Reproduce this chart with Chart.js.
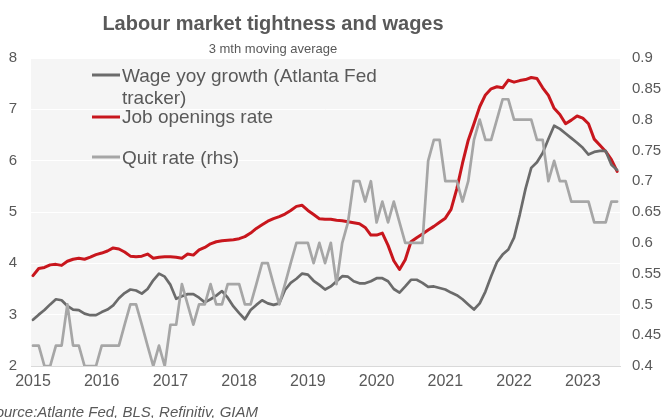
<!DOCTYPE html>
<html>
<head>
<meta charset="utf-8">
<title>Labour market tightness and wages</title>
<script src="https://cdn.jsdelivr.net/npm/chart.js@4/dist/chart.umd.min.js"></script>
<style>
  html, body { margin: 0; padding: 0; background: #ffffff; }
</style>
</head>
<body>
<canvas id="wagesChart" width="662" height="418"></canvas>
<script>
// Monthly data, Jan 2015 .. Jul 2023 (3 month moving averages)
const years = ['2015', '2016', '2017', '2018', '2019', '2020', '2021', '2022', '2023'];

// Atlanta Fed wage growth tracker, % yoy (lhs)
const wageGrowth = [
    2.90, 3.00, 3.09, 3.20, 3.30, 3.28, 3.17, 3.10, 3.09, 3.02, 2.99, 2.99,
    3.05, 3.10, 3.18, 3.32, 3.42, 3.49, 3.47, 3.41, 3.50, 3.67, 3.80, 3.74,
    3.58, 3.31, 3.36, 3.40, 3.40, 3.33, 3.24, 3.30, 3.37, 3.46, 3.33, 3.16,
    3.03, 2.91, 3.09, 3.19, 3.28, 3.22, 3.19, 3.22, 3.48, 3.62, 3.70, 3.80,
    3.78, 3.66, 3.58, 3.49, 3.55, 3.65, 3.75, 3.74, 3.65, 3.61, 3.61, 3.65,
    3.71, 3.71, 3.65, 3.50, 3.43, 3.55, 3.68, 3.68, 3.62, 3.54, 3.55, 3.52,
    3.49, 3.43, 3.38, 3.30, 3.20, 3.10, 3.22, 3.45, 3.75, 4.02, 4.17, 4.27,
    4.50, 4.95, 5.45, 5.86, 5.97, 6.15, 6.42, 6.68, 6.62, 6.53, 6.44, 6.35,
    6.25, 6.12, 6.17, 6.19, 6.19, 5.92, 5.82
];

// Job openings rate, % (lhs)
const jobOpenings = [
    3.76, 3.90, 3.92, 3.97, 3.98, 3.96, 4.04, 4.08, 4.10, 4.08, 4.12, 4.17,
    4.20, 4.24, 4.30, 4.28, 4.22, 4.14, 4.13, 4.14, 4.18, 4.10, 4.12, 4.13,
    4.13, 4.12, 4.10, 4.18, 4.16, 4.26, 4.31, 4.38, 4.42, 4.44, 4.45, 4.46,
    4.48, 4.52, 4.59, 4.68, 4.75, 4.82, 4.87, 4.91, 4.96, 5.03, 5.11, 5.13,
    5.03, 4.95, 4.87, 4.86, 4.86, 4.84, 4.83, 4.81, 4.79, 4.77, 4.70, 4.55,
    4.55, 4.59, 4.35, 4.05, 3.88, 4.07, 4.42, 4.50, 4.57, 4.65, 4.72, 4.80,
    4.88, 5.05, 5.45, 5.95, 6.40, 6.72, 7.05, 7.28, 7.40, 7.44, 7.42, 7.57,
    7.53, 7.56, 7.58, 7.62, 7.60, 7.42, 7.27, 7.02, 6.90, 6.72, 6.79, 6.87,
    6.83, 6.72, 6.42, 6.30, 6.18, 6.02, 5.79
];

// Quit rate (rhs)
const quitRate = [
    0.433, 0.433, 0.400, 0.400, 0.433, 0.433, 0.500, 0.433, 0.433, 0.400, 0.400, 0.400,
    0.433, 0.433, 0.433, 0.433, 0.467, 0.500, 0.500, 0.467, 0.433, 0.400, 0.433, 0.400,
    0.467, 0.467, 0.533, 0.500, 0.467, 0.500, 0.500, 0.533, 0.500, 0.500, 0.533, 0.533,
    0.533, 0.500, 0.500, 0.533, 0.567, 0.567, 0.533, 0.500, 0.533, 0.567, 0.600, 0.600,
    0.600, 0.567, 0.600, 0.567, 0.600, 0.533, 0.600, 0.633, 0.700, 0.700, 0.667, 0.700,
    0.633, 0.667, 0.633, 0.667, 0.633, 0.600, 0.600, 0.600, 0.600, 0.733, 0.767, 0.767,
    0.700, 0.700, 0.700, 0.667, 0.700, 0.767, 0.800, 0.767, 0.767, 0.800, 0.833, 0.833,
    0.800, 0.800, 0.800, 0.800, 0.767, 0.767, 0.700, 0.733, 0.700, 0.700, 0.667, 0.667,
    0.667, 0.667, 0.633, 0.633, 0.633, 0.667, 0.667
];

const seriesNames = [['Wage yoy growth (Atlanta Fed', 'tracker)'], ['Job openings rate'], ['Quit rate (rhs)']];
const seriesColors = ['#6b6b6b', '#c8161d', '#a6a6a6'];

const chartTitle = 'Labour market tightness and wages';
const chartSubtitle = '3 mth moving average';
const sourceNote = 'Source:Atlante Fed, BLS, Refinitiv, GIAM';

const textColor = '#595959';
const fontFamily = '"Liberation Sans", Arial, sans-serif';

// month index -> point
const toPoints = arr => arr.map((v, i) => ({ x: i, y: v }));

// title, grey plot background, hand drawn legend and source line
const decorations = {
    id: 'decorations',
    beforeDraw(chart) {
        const { ctx, chartArea: a } = chart;
        ctx.save();
        ctx.fillStyle = '#f5f5f5';
        ctx.fillRect(a.left, a.top, a.right - a.left, a.bottom - a.top);
        ctx.restore();
    },
    afterDraw(chart) {
        const ctx = chart.ctx;
        ctx.save();
        ctx.fillStyle = textColor;
        ctx.textBaseline = 'alphabetic';

        ctx.textAlign = 'center';
        ctx.font = 'bold 20px ' + fontFamily;
        ctx.fillText(chartTitle, 273, 30);
        ctx.font = '13px ' + fontFamily;
        ctx.fillText(chartSubtitle, 273, 53);

        // legend
        const rows = [{ y: 75, baseline: 82 }, { y: 117, baseline: 123 }, { y: 157, baseline: 164 }];
        ctx.textAlign = 'left';
        ctx.font = '19px ' + fontFamily;
        rows.forEach((r, k) => {
            ctx.strokeStyle = seriesColors[k];
            ctx.lineWidth = 3;
            ctx.beginPath();
            ctx.moveTo(92, r.y);
            ctx.lineTo(120, r.y);
            ctx.stroke();
            seriesNames[k].forEach((line, j) => {
                ctx.fillText(line, 122, r.baseline + j * 21.5);
            });
        });

        ctx.font = 'italic 15px ' + fontFamily;
        ctx.textAlign = 'right';
        ctx.fillText(sourceNote, 258, 417);
        ctx.restore();
    }
};

const ctx = document.getElementById('wagesChart').getContext('2d');
const wagesChart = new Chart(ctx, {
    type: 'line',
    data: {
        datasets: [{
            label: seriesNames[0].join(' '),
            data: toPoints(wageGrowth),
            borderColor: seriesColors[0],
            borderWidth: 2.7,
            yAxisID: 'y',
            order: 1
        }, {
            label: seriesNames[1][0],
            data: toPoints(jobOpenings),
            borderColor: seriesColors[1],
            borderWidth: 3,
            yAxisID: 'y',
            order: 2
        }, {
            label: seriesNames[2][0],
            data: toPoints(quitRate),
            borderColor: seriesColors[2],
            borderWidth: 2.7,
            yAxisID: 'y1',
            order: 0
        }]
    },
    options: {
        responsive: false,
        animation: false,
        layout: { padding: { top: 58, left: 0, right: 0, bottom: 0 } },
        elements: {
            point: { radius: 0 },
            line: { tension: 0, borderJoinStyle: 'round', borderCapStyle: 'round' }
        },
        plugins: {
            legend: { display: false },
            title: { display: false },
            tooltip: { enabled: false }
        },
        scales: {
            x: {
                type: 'linear',
                min: -0.35,
                max: 102.5,
                afterBuildTicks: scale => {
                    scale.ticks = years.map((y, k) => ({ value: k * 12 }));
                },
                afterFit: scale => { scale.height = 52; },
                ticks: {
                    autoSkip: false,
                    maxRotation: 0,
                    padding: 6,
                    color: textColor,
                    font: { family: fontFamily, size: 16 },
                    callback: v => years[Math.round(v / 12)]
                },
                grid: { display: false, drawTicks: false },
                border: { display: true, color: '#d9d9d9', width: 1 }
            },
            y: {
                position: 'left',
                min: 2,
                max: 8,
                afterFit: scale => { scale.width = 31; },
                ticks: {
                    stepSize: 1,
                    padding: 14,
                    color: textColor,
                    font: { family: fontFamily, size: 15 }
                },
                grid: { color: '#ffffff', lineWidth: 1, drawTicks: false },
                border: { display: false }
            },
            y1: {
                position: 'right',
                min: 0.4,
                max: 0.9,
                afterFit: scale => { scale.width = 42; },
                ticks: {
                    stepSize: 0.05,
                    padding: 12,
                    color: textColor,
                    font: { family: fontFamily, size: 15 },
                    callback: v => String(Number(v.toFixed(2)))
                },
                grid: { display: false, drawTicks: false },
                border: { display: false }
            }
        }
    },
    plugins: [decorations]
});
</script>
</body>
</html>
